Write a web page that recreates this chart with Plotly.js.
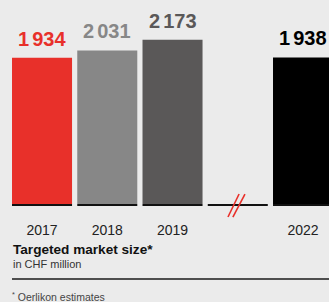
<!DOCTYPE html>
<html>
<head>
<meta charset="utf-8">
<script src="https://cdn.plot.ly/plotly-3.0.1.min.js"></script>
<style>
html,body{margin:0;padding:0;background:#ebebeb;}
#chart{width:329px;height:302px;}
</style>
</head>
<body>
<div id="chart"></div>
<script>
// Data
var categories = ['2017', '2018', '2019', '', '2022'];
var values = [1934, 2031, 2173, null, 1938];
var barColors = ['#e8302a', '#878787', '#5a5858', '#ebebeb', '#000000'];
var breakIndex = 3;

var FONT = 'Arial, Liberation Sans, Helvetica, sans-serif';
var idx = categories.map(function (c, i) { return i; });
var halfW = 0.46;

function fmt(v) {
  return String(v).replace(/\B(?=(\d{3})+(?!\d))/g, '<span style="font-size:11px">\u00A0</span>');
}

var trace = {
  type: 'bar',
  x: idx,
  y: values,
  marker: { color: barColors, line: { width: 0 } },
  width: halfW * 2,
  hoverinfo: 'skip'
};

var annotations = [];
idx.forEach(function (i) {
  if (values[i] === null) return;
  annotations.push({
    x: i, y: values[i], xref: 'x', yref: 'y',
    text: '<b>' + fmt(values[i]) + '</b>', showarrow: false,
    xanchor: 'center', yanchor: 'bottom', yshift: 6,
    font: { family: FONT, size: 20, color: barColors[i] }
  });
});

var tickIdx = idx.filter(function (i) { return categories[i] !== ''; });

// text blocks (paper coords: plot area spans px 0..220 vertically)
function py(px) { return (220 - px) / 220; }
annotations.push({
  xref: 'paper', yref: 'paper', x: 11 / 329, y: py(240), xanchor: 'left', yanchor: 'top',
  text: '<b>Targeted market size*</b>', showarrow: false,
  font: { family: FONT, size: 13.6, color: '#111' }
});
annotations.push({
  xref: 'paper', yref: 'paper', x: 11 / 329, y: py(256), xanchor: 'left', yanchor: 'top',
  text: 'in CHF million', showarrow: false,
  font: { family: FONT, size: 11, color: '#333' }
});
annotations.push({
  xref: 'paper', yref: 'paper', x: 10 / 329, y: py(288), xanchor: 'left', yanchor: 'top',
  text: '<sup>*</sup> Oerlikon estimates', showarrow: false,
  font: { family: FONT, size: 10.5, color: '#444' }
});

var shapes = [];
// baseline under each slot
idx.forEach(function (i) {
  shapes.push({
    type: 'rect', xref: 'x', yref: 'y', x0: i - halfW, x1: i + halfW,
    y0: -27, y1: 0, fillcolor: '#111', line: { width: 0 }, layer: 'above'
  });
});
// break slashes
[[-0.15, 0.02], [-0.075, 0.11]].forEach(function (s) {
  shapes.push({
    type: 'line', xref: 'x', yref: 'y',
    x0: breakIndex + s[0], x1: breakIndex + s[1], y0: -172, y1: 132,
    line: { color: '#e8302a', width: 1.6 }, layer: 'above'
  });
});
// rule above footnote
shapes.push({
  type: 'rect', xref: 'paper', yref: 'paper', x0: 12 / 329, x1: 1, y0: py(278.2), y1: py(279.8),
  fillcolor: '#1a1a1a', line: { width: 0 }, layer: 'above'
});

var layout = {
  width: 329, height: 302,
  margin: { l: 0, r: 0, t: 0, b: 82 },
  paper_bgcolor: '#ebebeb', plot_bgcolor: '#ebebeb',
  showlegend: false,
  font: { family: FONT },
  xaxis: {
    range: [-0.644, 4.398], tickvals: tickIdx,
    ticktext: tickIdx.map(function (i) { return categories[i]; }),
    showgrid: false, zeroline: false, showline: false, ticks: '',
    tickfont: { family: FONT, size: 14, color: '#222' }, fixedrange: true
  },
  yaxis: {
    range: [-211.6, 2698], visible: false, showgrid: false, zeroline: false, fixedrange: true
  },
  annotations: annotations,
  shapes: shapes
};

Plotly.newPlot('chart', [trace], layout, { displayModeBar: false, staticPlot: true });
</script>
</body>
</html>
